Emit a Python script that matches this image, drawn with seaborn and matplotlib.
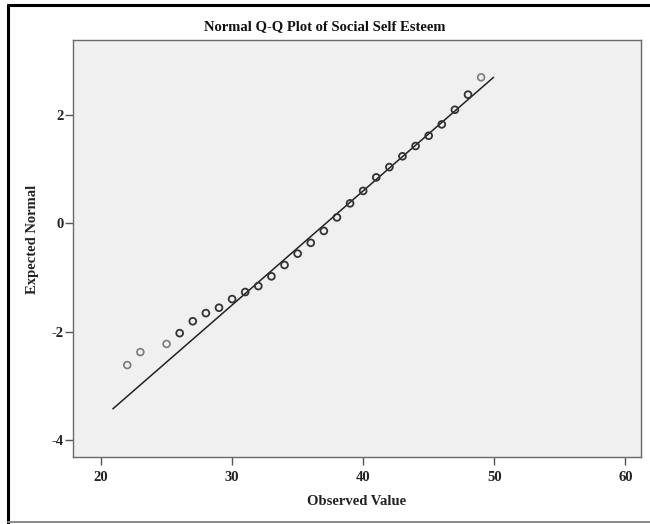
import matplotlib
matplotlib.use("Agg")
import matplotlib.pyplot as plt
from matplotlib.lines import Line2D
import numpy as np
import pandas as pd
import seaborn as sns

# Observed scale values and their expected normal scores
observed = [22, 23, 25, 26, 27, 28, 29, 30, 31, 32, 33, 34, 35, 36,
            37, 38, 39, 40, 41, 42, 43, 44, 45, 46, 47, 48, 49]
expected = [-2.62, -2.38, -2.23, -2.03, -1.81, -1.66, -1.56, -1.40, -1.27,
            -1.16, -0.98, -0.77, -0.56, -0.36, -0.14, 0.11, 0.37, 0.60,
            0.85, 1.04, 1.24, 1.43, 1.62, 1.83, 2.10, 2.38, 2.70]
# values held by a single case (drawn in a lighter grey)
single_case = [22, 23, 25, 49]

# reference line of the fitted normal distribution
line_x = [20.9, 49.95]
line_y = [-3.43, 2.70]

x_ticks = [20, 30, 40, 50, 60]
y_ticks = [-4, -2, 0, 2]

title = "Normal Q-Q Plot of Social Self Esteem"
x_label = "Observed Value"
y_label = "Expected Normal"

sns.set_theme(style="white")
plt.rcParams["font.family"] = ["Liberation Serif", "DejaVu Serif"]
plt.rcParams["font.weight"] = "bold"

df = pd.DataFrame({"observed": observed, "expected": expected})
df["single"] = df["observed"].isin(single_case)

W, H = 650, 524
fig = plt.figure(figsize=(W / 100, H / 100), dpi=100)
fig.patch.set_facecolor("white")

left, right, top, bottom = 73, 641, 40, 457
ax = fig.add_axes([left / W, (H - bottom) / H, (right - left) / W, (bottom - top) / H])
ax.set_facecolor("#f0f0f0")

sns.lineplot(x=line_x, y=line_y, ax=ax, color="#222222", linewidth=1.1,
             estimator=None, sort=False, zorder=2)

sns.scatterplot(data=df[~df["single"]], x="observed", y="expected", ax=ax,
                marker="o", s=24, facecolor="none", edgecolor="#333333",
                linewidth=1.3, zorder=3)
sns.scatterplot(data=df[df["single"]], x="observed", y="expected", ax=ax,
                marker="o", s=24, facecolor="none", edgecolor="#7a7a7a",
                linewidth=1.2, zorder=3)

ax.set_xlim(17.86, 61.2)
ax.set_ylim(-4.32, 3.39)
ax.set_xticks(x_ticks)
ax.set_yticks(y_ticks)
ax.set_xticklabels([str(v) for v in x_ticks], fontsize=10.5, fontweight="bold", color="#222222")
ax.set_yticklabels([str(v) for v in y_ticks], fontsize=10.5, fontweight="bold", color="#222222")
ax.tick_params(axis="both", which="major", direction="out", length=5.5,
               width=1.0, color="#555555", bottom=True, left=True,
               top=False, right=False)
ax.tick_params(axis="x", pad=4.5)
ax.tick_params(axis="y", pad=1)

for side in ["left", "bottom", "top", "right"]:
    ax.spines[side].set_visible(True)
    ax.spines[side].set_color("#6a6a6a")
    ax.spines[side].set_linewidth(1.0)

ax.set_xlabel(x_label, fontsize=10.5, fontweight="bold", color="#222222", labelpad=8)
ax.set_ylabel(y_label, fontsize=10.5, fontweight="bold", color="#222222")
ax.yaxis.set_label_coords(-0.060, 0.523)

fig.text(204 / W, 1 - 26.5 / H, title, ha="left", va="center",
         fontsize=10.5, fontweight="bold", color="#111111")

# outer frame of the exported chart
fig.add_artist(Line2D([8 / W, 8 / W], [0.5 / H, 1 - 5 / H], transform=fig.transFigure,
                      color="black", linewidth=2.2))
fig.add_artist(Line2D([8 / W, 1.0], [1 - 5 / H, 1 - 5 / H], transform=fig.transFigure,
                      color="black", linewidth=2.2))
fig.add_artist(Line2D([8 / W, 1.0], [2.5 / H, 2.5 / H], transform=fig.transFigure,
                      color="#8a8a8a", linewidth=1.4))

fig.savefig("out.png", dpi=100, facecolor="white")
